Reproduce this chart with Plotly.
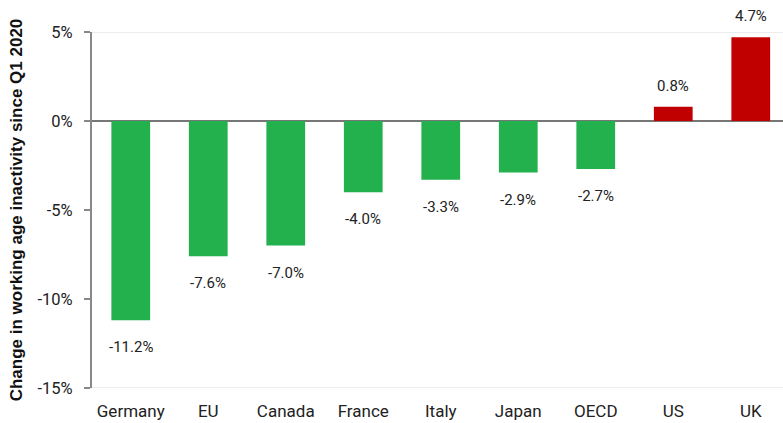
import plotly.graph_objects as go

categories = ["Germany", "EU", "Canada", "France", "Italy", "Japan", "OECD", "US", "UK"]
values = [-11.2, -7.6, -7.0, -4.0, -3.3, -2.9, -2.7, 0.8, 4.7]
labels = ["-11.2%", "-7.6%", "-7.0%", "-4.0%", "-3.3%", "-2.9%", "-2.7%", "0.8%", "4.7%"]
tick_vals = [5, 0, -5, -10, -15]
tick_text = ["5%", "0%", "-5%", "-10%", "-15%"]

GREEN = "#22b14c"
RED = "#c00000"
colors = [RED if v > 0 else GREEN for v in values]

fig = go.Figure()
fig.add_trace(go.Bar(
    x=categories, y=values, marker=dict(color=colors, line=dict(width=0)),
    width=0.5, hoverinfo="skip",
))

for c, v, t in zip(categories, values, labels):
    fig.add_annotation(
        x=c, y=v, text=t, showarrow=False, xref="x", yref="y",
        yshift=21 if v > 0 else -27,
        font=dict(family="Roboto, Arial, sans-serif", size=15, color="#222"),
    )

# light gridlines at top and bottom
for yv in (5, -15):
    fig.add_shape(type="line", xref="paper", yref="y", x0=0, x1=1, y0=yv, y1=yv,
                  line=dict(color="#e6e6e6", width=1.5), layer="below")

fig.update_layout(
    width=783, height=423,
    margin=dict(l=92, r=0, t=32, b=35),
    plot_bgcolor="white", paper_bgcolor="white",
    showlegend=False,
    font=dict(family="Roboto, Arial, sans-serif", size=15, color="#222"),
    xaxis=dict(
        range=[-0.5, 8.416], showgrid=False, showline=False, ticks="",
        tickfont=dict(size=17, color="#222"), ticklabelstandoff=11,
        fixedrange=True,
    ),
    yaxis=dict(
        range=[-15, 5], tickvals=tick_vals, ticktext=tick_text,
        showgrid=False, zeroline=True, zerolinecolor="#777", zerolinewidth=2,
        showline=True, linecolor="#888", linewidth=2,
        ticks="outside", ticklen=6, tickwidth=2, tickcolor="#888",
        tickfont=dict(size=16.5, color="#222"), ticklabelstandoff=8,
        title=dict(text="<b>Change in working age inactivity since Q1 2020</b>",
                   font=dict(family="Arial, Liberation Sans, sans-serif", size=17, color="#111"),
                   standoff=11),
        automargin=False, fixedrange=True,
    ),
)

fig.write_html("out.html")
